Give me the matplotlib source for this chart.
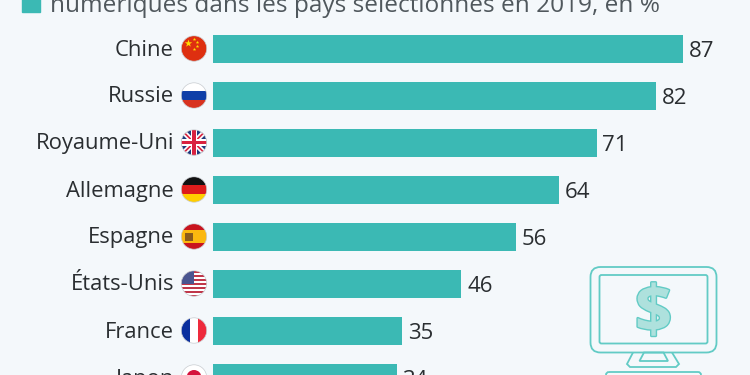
import matplotlib
matplotlib.use("Agg")
import matplotlib.pyplot as plt
import matplotlib.patheffects as pe
from matplotlib.patches import Circle, Rectangle, FancyBboxPatch, Polygon

countries = ["Chine", "Russie", "Royaume-Uni", "Allemagne", "Espagne", "États-Unis", "France", "Japon"]
values = [87, 82, 71, 64, 56, 46, 35, 34]
title_text = "numériques dans les pays sélectionnés en 2019, en %"

BG = "#f4f8fb"
TEAL = "#3bb9b4"
ICON = "#62cbc5"
plt.rcParams["font.family"] = ["Open Sans", "DejaVu Sans"]

fig = plt.figure(figsize=(7.5, 3.75), dpi=100, facecolor=BG)

# bars: 5.402 px per unit, rows 47 px apart, first row centred at y=49
ax = fig.add_axes([213 / 750, 0, 537 / 750, 1])
ax.set_xlim(0, 537 / 5.402)
ax.set_ylim((375 - 49) / 47, -49 / 47)
ax.axis("off")
ax.barh(range(len(values)), values, height=28 / 47, color=TEAL)
for i, v in enumerate(values):
    ax.annotate(str(v), (v, i), xytext=(4.2, -5.8), textcoords="offset points",
                ha="left", va="baseline", fontsize=16, color="#2a2e31", annotation_clip=False)

# overlay in pixel coordinates for labels, flags and the icon
ov = fig.add_axes([0, 0, 1, 1])
ov.set_xlim(0, 750)
ov.set_ylim(375, 0)
ov.axis("off")
ov.patch.set_alpha(0)

for i, name in enumerate(countries):
    ov.text(174, 55.5 + 47 * i, name, ha="right", va="baseline", fontsize=15.8, color="#2a2e31")

ov.add_patch(Rectangle((22, -8), 18, 19.5, color=TEAL))
ov.text(50, 11.5, title_text, ha="left", va="baseline", fontsize=17.6, color="#50585d")


def stripes(cy, cols, vertical=False):
    n = len(cols)
    out = []
    for k, c in enumerate(cols):
        if vertical:
            r = Rectangle((181 + 26 * k / n, cy - 13), 26 / n, 26, color=c, lw=0)
        else:
            r = Rectangle((181, cy - 13 + 26 * k / n), 26, 26 / n, color=c, lw=0)
        out.append(r)
    return out


def draw_flag(cy, parts):
    clip = Circle((194, cy), 12.7, transform=ov.transData)
    for p in parts:
        ov.add_patch(p)
        p.set_clip_path(clip)
    ov.add_patch(Circle((194, cy), 12.7, fill=False, ec="#c8ccd0", lw=0.5))


def cross(cy, w, c):
    return [Rectangle((181, cy - w / 2), 26, w, color=c, lw=0), Rectangle((194 - w / 2, cy - 13), w, 26, color=c, lw=0)]


def diag(cy, w, c):
    d = w / 2
    return [Polygon([(181 - d, cy - 13 + d), (181 + d, cy - 13 - d), (207 + d, cy + 13 - d), (207 - d, cy + 13 + d)], color=c, lw=0),
            Polygon([(181 - d, cy + 13 - d), (181 + d, cy + 13 + d), (207 + d, cy - 13 + d), (207 - d, cy - 13 - d)], color=c, lw=0)]


ys = [48.5 + 47 * i for i in range(8)]
# Chine
draw_flag(ys[0], [Rectangle((181, ys[0] - 13), 26, 26, color="#de2f10", lw=0)])
ov.scatter([188], [ys[0] - 6], marker="*", s=32, color="#ffde00", lw=0, zorder=3)
ov.scatter([194, 197, 197, 194], [ys[0] - 10, ys[0] - 7, ys[0] - 3, ys[0]], marker="*", s=7, color="#ffde00", lw=0, zorder=3)
# Russie
draw_flag(ys[1], stripes(ys[1], ["#ffffff", "#0f3fa8", "#d8321f"]))
# Royaume-Uni
draw_flag(ys[2], [Rectangle((181, ys[2] - 13), 26, 26, color="#1f3a7d", lw=0)] + diag(ys[2], 3.6, "#ffffff")
          + diag(ys[2], 1.2, "#d9213f") + cross(ys[2], 6.5, "#ffffff") + cross(ys[2], 3.6, "#d9213f"))
# Allemagne
draw_flag(ys[3], stripes(ys[3], ["#111111", "#dd1c1c", "#ffce00"]))
# Espagne
draw_flag(ys[4], stripes(ys[4], ["#c8141e", "#fbb80f", "#fbb80f", "#c8141e"])
          + [Rectangle((184.5, ys[4] - 3.5), 8, 7.5, color="#8a5a1c", lw=0)])
# États-Unis
us = stripes(ys[5], ["#c0374a", "#ffffff"] * 6 + ["#c0374a"])
draw_flag(ys[5], us + [Rectangle((181, ys[5] - 13), 13, 13, color="#4a5590", lw=0)])
# France
draw_flag(ys[6], stripes(ys[6], ["#0a2f9e", "#ffffff", "#ee2a3c"], vertical=True))
# Japon
draw_flag(ys[7], [Rectangle((181, ys[7] - 13), 26, 26, color="#ffffff", lw=0), Circle((194, ys[7]), 7.5, color="#d5133d", lw=0)])

# computer icon
ov.add_patch(FancyBboxPatch((596, 272.5), 115, 74.5, boxstyle="round,pad=5.5,rounding_size=10", fc="none", ec=ICON, lw=1.3))
ov.add_patch(FancyBboxPatch((600.5, 276), 106, 66.5, boxstyle="round,pad=1,rounding_size=2", fc="none", ec=ICON, lw=1.3))
ov.add_patch(Polygon([(633, 352.5), (627, 364), (630, 367), (676, 367), (679, 364), (672, 352.5)], closed=False, fc="none", ec=ICON, lw=1.3))
ov.add_patch(Polygon([(644, 352.5), (639.5, 361), (668, 361), (663.5, 352.5)], fc="none", ec=ICON, lw=1.3))
ov.add_patch(FancyBboxPatch((609, 375), 89, 10, boxstyle="round,pad=3,rounding_size=3", fc="none", ec=ICON, lw=1.3))
ov.text(653.5, 332, "$", ha="center", va="baseline", fontsize=47, fontweight="bold", color="#aee1dd",
        path_effects=[pe.withStroke(linewidth=2, foreground=ICON)])

fig.savefig("out.png", dpi=100, facecolor=BG)
